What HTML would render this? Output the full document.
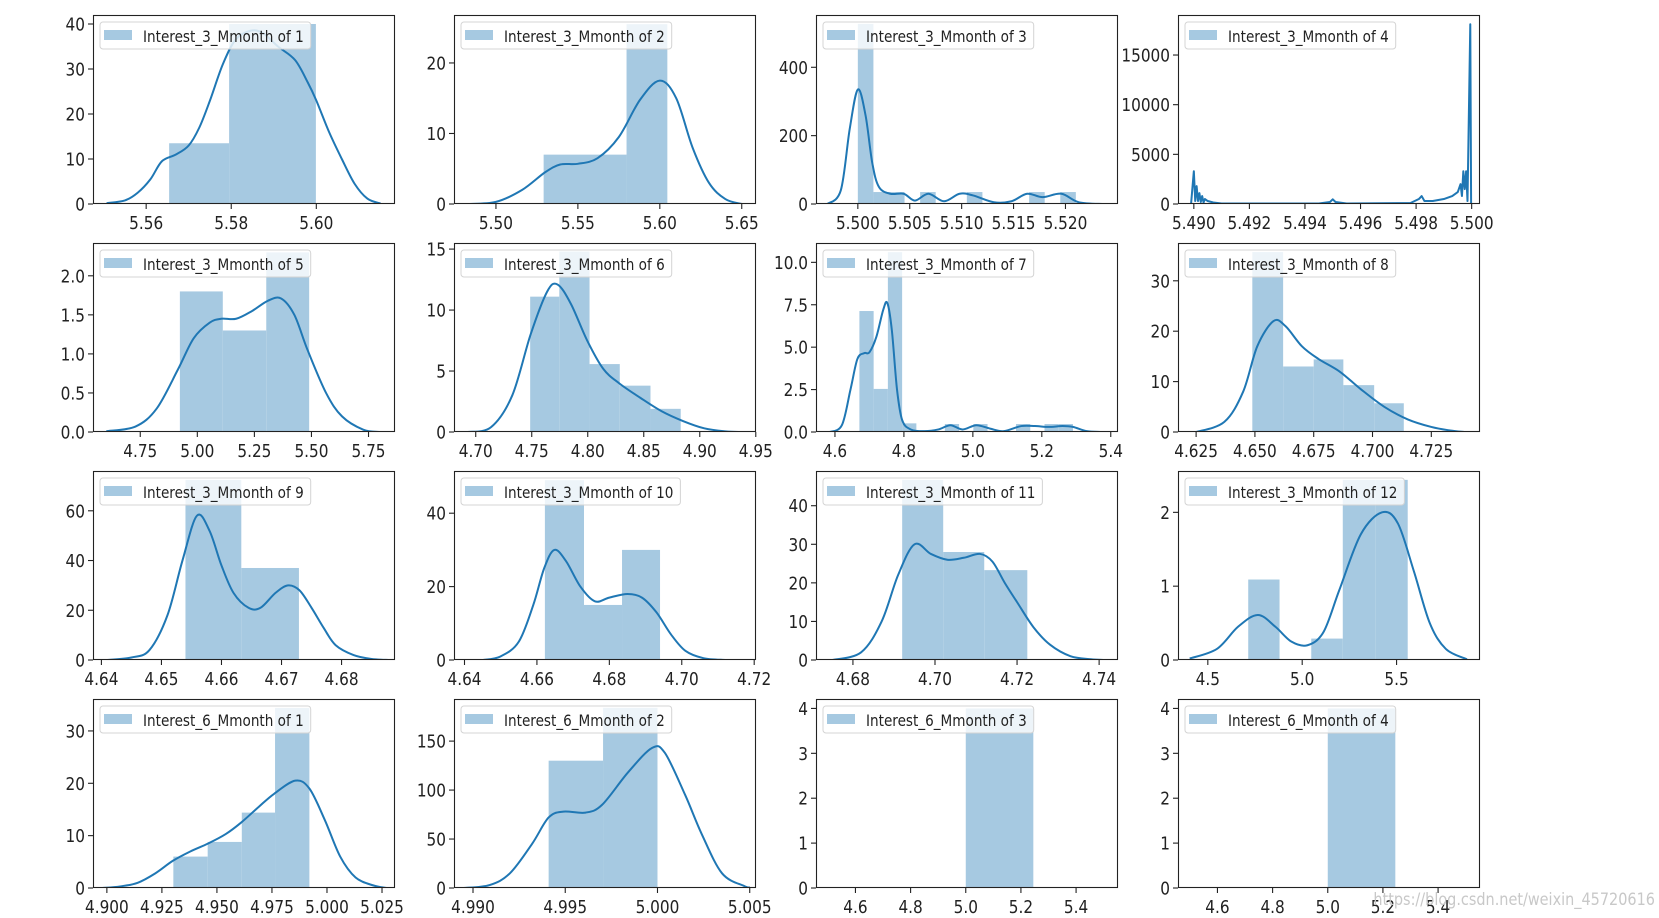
<!DOCTYPE html>
<html><head><meta charset="utf-8">
<style>
html,body{margin:0;padding:0;background:#fff;}
svg{display:block;}
text{font-family:"DejaVu Sans","Liberation Sans",sans-serif;fill:#222;}
</style></head>
<body>
<svg id="chart" width="1659" height="918" viewBox="0 0 1659 918" xmlns="http://www.w3.org/2000/svg">
<rect x="0" y="0" width="1659" height="918" fill="#fff"/>
</svg>
<script>
// ---------- data arrays ----------
const p1Edges=[5.5654,5.5795,5.5999];
const p1Heights=[13.5,40];
const p1KdeX=[5.5507,5.555,5.558,5.561,5.5637,5.567,5.570,5.5725,5.575,5.578,5.581,5.5845,5.5874,5.591,5.595,5.598,5.600,5.603,5.606,5.609,5.612,5.6151];
const p1KdeY=[0.2,0.8,2.5,5.5,9.5,11,13,17,23,31,36.5,38.5,38,35,32,27,23,16,10,4.5,1.2,0.1];
const p1XTicks=["5.56","5.58","5.60"];
const p1YTicks=["0","10","20","30","40"];

const p2Edges=[5.5291,5.5797,5.6046];
const p2Heights=[7.0,25.5];
const p2KdeX=[5.4828,5.500,5.516,5.530,5.5392,5.550,5.562,5.575,5.588,5.600,5.610,5.620,5.630,5.640,5.650];
const p2KdeY=[0,0.3,2,4.5,5.6,5.7,6.5,9.5,14.8,17.5,15,8,3,0.7,0];
const p2XTicks=["5.50","5.55","5.60","5.65"];
const p2YTicks=["0","10","20"];

const p3Edges=[5.5000,5.5015,5.5030,5.5045,5.5060,5.5075,5.5090,5.5105,5.5120,5.5135,5.5150,5.5165,5.5180,5.5195,5.5210];
const p3Heights=[527,35,35,0,35,0,0,35,0,0,0,35,0,35];
const p3KdeX=[5.49706,5.49836,5.49922,5.5000,5.50074,5.50139,5.50203,5.50312,5.50442,5.5055,5.5068,5.50831,5.5098,5.5111,5.5131,5.5148,5.5163,5.5178,5.5196,5.5213,5.5237];
const p3KdeY=[0,40,220,335,260,120,50,30,30,10,30,8,30,25,5,8,30,20,30,5,0];
const p3XTicks=["5.500","5.505","5.510","5.515","5.520"];
const p3YTicks=["0","200","400"];

const p4Edges=[];
const p4Heights=[];
const p4KdeX=[5.4899,5.4900,5.49005,5.4901,5.49015,5.4902,5.49025,5.4903,5.49035,5.4904,5.4905,5.4907,5.4910,5.4945,5.4949,5.4950,5.4951,5.4955,5.4978,5.4981,5.4982,5.4983,5.4986,5.4990,5.4993,5.4995,5.4996,5.49965,5.4997,5.49975,5.4998,5.49985,5.49995,5.49998];
const p4KdeY=[0,3300,300,1800,300,1100,200,800,150,500,300,150,50,50,200,470,200,50,100,500,800,300,300,500,800,1200,2000,800,3300,1500,3300,300,18100,0];
const p4XTicks=["5.490","5.492","5.494","5.496","5.498","5.500"];
const p4YTicks=["0","5000","10000","15000"];

const p5Edges=[4.9236,5.1116,5.302,5.490];
const p5Heights=[1.80,1.30,2.30];
const p5KdeX=[4.6015,4.729,4.822,4.915,4.984,5.054,5.105,5.170,5.240,5.309,5.367,5.425,5.483,5.564,5.634,5.727,5.801];
const p5KdeY=[0.01,0.07,0.3,0.8,1.2,1.4,1.45,1.45,1.55,1.68,1.71,1.5,1.05,0.5,0.2,0.03,0];
const p5XTicks=["4.75","5.00","5.25","5.50","5.75"];
const p5YTicks=["0.0","0.5","1.0","1.5","2.0"];

const p6Edges=[4.7486,4.7746,4.8016,4.8286,4.856,4.883];
const p6Heights=[11.1,14.8,5.57,3.8,1.9];
const p6KdeX=[4.693,4.7137,4.7326,4.749,4.7637,4.773,4.785,4.7995,4.8137,4.828,4.847,4.866,4.885,4.904,4.923,4.937];
const p6KdeY=[0,0.4,3,8,11.5,12.1,10.5,7.5,5.2,4,2.8,1.7,0.9,0.3,0.05,0];
const p6XTicks=["4.70","4.75","4.80","4.85","4.90","4.95"];
const p6YTicks=["0","5","10","15"];

const p7Edges=[4.6709,4.7122,4.7535,4.7948,4.8361,4.8774,4.9187,4.9600,5.0013,5.0426,5.0839,5.1252,5.1665,5.2078,5.2491,5.2904];
const p7Heights=[7.13,2.54,10.6,0.51,0,0,0.47,0,0.47,0,0,0.47,0,0.47,0.47];
const p7KdeX=[4.584,4.62,4.645,4.665,4.685,4.70,4.72,4.74,4.752,4.765,4.78,4.795,4.82,4.86,4.90,4.935,4.97,5.01,5.05,5.09,5.14,5.18,5.22,5.26,5.29,5.33,5.37];
const p7KdeY=[0,0.4,2.5,4.3,4.65,4.7,5.6,7.2,7.6,6,2.5,0.7,0.15,0.05,0.15,0.4,0.15,0.4,0.2,0.05,0.35,0.35,0.3,0.35,0.3,0.05,0];
const p7XTicks=["4.6","4.8","5.0","5.2","5.4"];
const p7YTicks=["0.0","2.5","5.0","7.5","10.0"];

const p8Edges=[4.6489,4.6620,4.6750,4.6876,4.7007,4.7133];
const p8Heights=[35.7,13.0,14.4,9.3,5.7];
const p8KdeX=[4.625,4.637,4.645,4.651,4.6579,4.663,4.670,4.677,4.686,4.695,4.705,4.715,4.725,4.733,4.739];
const p8KdeY=[0,2,8,17,22,21,17,14.5,12,8.5,5,2.5,1,0.3,0];
const p8XTicks=["4.625","4.650","4.675","4.700","4.725"];
const p8YTicks=["0","10","20","30"];

const p9Edges=[4.6540,4.6633,4.6729];
const p9Heights=[72.4,37];
const p9KdeX=[4.641,4.645,4.648,4.651,4.6535,4.6559,4.658,4.660,4.662,4.6645,4.6665,4.669,4.6711,4.673,4.675,4.677,4.679,4.682,4.685,4.688];
const p9KdeY=[0,1,4,18,40,58,52,38,27,21,21,27,30,28,21,13,6,2,0.4,0];
const p9XTicks=["4.64","4.65","4.66","4.67","4.68"];
const p9YTicks=["0","20","40","60"];

const p10Edges=[4.6622,4.6730,4.6835,4.694];
const p10Heights=[49,15,30];
const p10KdeX=[4.645,4.650,4.655,4.659,4.662,4.6648,4.668,4.672,4.676,4.680,4.685,4.689,4.693,4.697,4.701,4.706,4.712];
const p10KdeY=[0,1,5,15,25,30,27,20,16,17,18,17,13,7,2.5,0.5,0];
const p10XTicks=["4.64","4.66","4.68","4.70","4.72"];
const p10YTicks=["0","20","40"];

const p11Edges=[4.692,4.702,4.712,4.7225];
const p11Heights=[46.7,28,23.3];
const p11KdeX=[4.675,4.682,4.687,4.691,4.695,4.699,4.703,4.707,4.711,4.714,4.717,4.720,4.724,4.728,4.733,4.738,4.741];
const p11KdeY=[0,2,10,22,30,27.5,26,26.5,27.5,25.5,20,15,8.5,4,1,0.2,0];
const p11XTicks=["4.68","4.70","4.72","4.74"];
const p11YTicks=["0","10","20","30","40"];

const p12Edges=[4.714,4.880,5.048,5.215,5.387,5.559];
const p12Heights=[1.09,0,0.29,2.44,2.44];
const p12KdeX=[4.404,4.548,4.66,4.765,4.858,4.942,5.028,5.113,5.197,5.31,5.423,5.507,5.592,5.676,5.761,5.873];
const p12KdeY=[0.02,0.15,0.45,0.61,0.45,0.25,0.2,0.38,0.95,1.7,2.0,1.85,1.2,0.5,0.15,0.01];
const p12XTicks=["4.5","5.0","5.5"];
const p12YTicks=["0","1","2"];

const p13Edges=[4.9302,4.9458,4.9613,4.9764,4.992];
const p13Heights=[6,8.8,14.4,34.4];
const p13KdeX=[4.898,4.906,4.914,4.922,4.930,4.938,4.946,4.954,4.961,4.969,4.976,4.9856,4.992,4.999,5.006,5.013,5.021,5.027];
const p13KdeY=[0,0.3,1.0,2.8,5.2,7,8.5,10.3,12.5,15.5,18,20.5,19,13,6,2,0.5,0];
const p13XTicks=["4.900","4.925","4.950","4.975","5.000","5.025"];
const p13YTicks=["0","10","20","30"];

const p14Edges=[4.9941,4.99705,5.000];
const p14Heights=[130,184];
const p14KdeX=[4.9895,4.9909,4.9920,4.9932,4.9941,4.9949,4.9961,4.9970,4.9984,4.9997,5.0004,5.0015,5.0024,5.0035,5.0047,5.0050];
const p14KdeY=[0,3,15,45,72,78,77,85,118,143,138,95,55,15,2,0.5];
const p14XTicks=["4.990","4.995","5.000","5.005"];
const p14YTicks=["0","50","100","150"];

const p15Edges=[5.0,5.245];
const p15Heights=[4.0];
const p15KdeX=[];
const p15KdeY=[];
const p15XTicks=["4.6","4.8","5.0","5.2","5.4"];
const p15YTicks=["0","1","2","3","4"];

const p16Edges=[5.0,5.245];
const p16Heights=[4.0];
const p16KdeX=[];
const p16KdeY=[];
const p16XTicks=["4.6","4.8","5.0","5.2","5.4"];
const p16YTicks=["0","1","2","3","4"];

const legendLabels=["Interest_3_Mmonth of 1","Interest_3_Mmonth of 2","Interest_3_Mmonth of 3","Interest_3_Mmonth of 4","Interest_3_Mmonth of 5","Interest_3_Mmonth of 6","Interest_3_Mmonth of 7","Interest_3_Mmonth of 8","Interest_3_Mmonth of 9","Interest_3_Mmonth of 10","Interest_3_Mmonth of 11","Interest_3_Mmonth of 12","Interest_6_Mmonth of 1","Interest_6_Mmonth of 2","Interest_6_Mmonth of 3","Interest_6_Mmonth of 4"];

// axis ranges
const plots=[
 {xlim:[5.5475,5.6185],ylim:[0,42],edges:p1Edges,heights:p1Heights,kx:p1KdeX,ky:p1KdeY,xt:p1XTicks,yt:p1YTicks,smooth:true},
 {xlim:[5.4744,5.6587],ylim:[0,26.8],edges:p2Edges,heights:p2Heights,kx:p2KdeX,ky:p2KdeY,xt:p2XTicks,yt:p2YTicks,smooth:true},
 {xlim:[5.49597,5.52506],ylim:[0,553],edges:p3Edges,heights:p3Heights,kx:p3KdeX,ky:p3KdeY,xt:p3XTicks,yt:p3YTicks,smooth:true},
 {xlim:[5.48943,5.5003],ylim:[0,19030],edges:p4Edges,heights:p4Heights,kx:p4KdeX,ky:p4KdeY,xt:p4XTicks,yt:p4YTicks,smooth:false},
 {xlim:[4.543,5.866],ylim:[0,2.42],edges:p5Edges,heights:p5Heights,kx:p5KdeX,ky:p5KdeY,xt:p5XTicks,yt:p5YTicks,smooth:true},
 {xlim:[4.6806,4.9502],ylim:[0,15.5],edges:p6Edges,heights:p6Heights,kx:p6KdeX,ky:p6KdeY,xt:p6XTicks,yt:p6YTicks,smooth:true},
 {xlim:[4.545,5.421],ylim:[0,11.14],edges:p7Edges,heights:p7Heights,kx:p7KdeX,ky:p7KdeY,xt:p7XTicks,yt:p7YTicks,smooth:true},
 {xlim:[4.6173,4.7457],ylim:[0,37.5],edges:p8Edges,heights:p8Heights,kx:p8KdeX,ky:p8KdeY,xt:p8XTicks,yt:p8YTicks,smooth:true},
 {xlim:[4.6386,4.6889],ylim:[0,76],edges:p9Edges,heights:p9Heights,kx:p9KdeX,ky:p9KdeY,xt:p9XTicks,yt:p9YTicks,smooth:true},
 {xlim:[4.6371,4.7205],ylim:[0,51.5],edges:p10Edges,heights:p10Heights,kx:p10KdeX,ky:p10KdeY,xt:p10XTicks,yt:p10YTicks,smooth:true},
 {xlim:[4.671,4.7446],ylim:[0,49],edges:p11Edges,heights:p11Heights,kx:p11KdeX,ky:p11KdeY,xt:p11XTicks,yt:p11YTicks,smooth:true},
 {xlim:[4.342,5.942],ylim:[0,2.56],edges:p12Edges,heights:p12Heights,kx:p12KdeX,ky:p12KdeY,xt:p12XTicks,yt:p12YTicks,smooth:true},
 {xlim:[4.8937,5.0309],ylim:[0,36.1],edges:p13Edges,heights:p13Heights,kx:p13KdeX,ky:p13KdeY,xt:p13XTicks,yt:p13YTicks,smooth:true},
 {xlim:[4.98897,5.00534],ylim:[0,193],edges:p14Edges,heights:p14Heights,kx:p14KdeX,ky:p14KdeY,xt:p14XTicks,yt:p14YTicks,smooth:true},
 {xlim:[4.457,5.552],ylim:[0,4.21],edges:p15Edges,heights:p15Heights,kx:p15KdeX,ky:p15KdeY,xt:p15XTicks,yt:p15YTicks,smooth:true},
 {xlim:[4.457,5.552],ylim:[0,4.21],edges:p16Edges,heights:p16Heights,kx:p16KdeX,ky:p16KdeY,xt:p16XTicks,yt:p16YTicks,smooth:true}
];

// ---------- layout ----------
const colLeft=[93,454,816,1178];
const rowTop=[15,243,471,699];
const AW=302, AH=189;
const BAR_FILL="rgb(166,201,225)";
const LINE="#1f77b4";
const SX=0.85;
const NS="http://www.w3.org/2000/svg";
const svg=document.getElementById('chart');

function mk(tag,attrs,parent){
  const e=document.createElementNS(NS,tag);
  for(const k in attrs) e.setAttribute(k,attrs[k]);
  parent.appendChild(e);
  return e;
}
function txt(parent,x,y,str,size,anchor){
  const t=mk('text',{transform:`translate(${x},${y}) scale(${SX},1)`,'font-size':size,'text-anchor':anchor},parent);
  t.textContent=str;
  return t;
}
function smoothPath(pts){
  if(pts.length<2) return '';
  let d=`M${pts[0][0].toFixed(2)},${pts[0][1].toFixed(2)}`;
  for(let i=0;i<pts.length-1;i++){
    const p0=pts[i-1]||pts[i], p1=pts[i], p2=pts[i+1], p3=pts[i+2]||pts[i+1];
    const c1=[p1[0]+(p2[0]-p0[0])/6, p1[1]+(p2[1]-p0[1])/6];
    const c2=[p2[0]-(p3[0]-p1[0])/6, p2[1]-(p3[1]-p1[1])/6];
    d+=` C${c1[0].toFixed(2)},${c1[1].toFixed(2)} ${c2[0].toFixed(2)},${c2[1].toFixed(2)} ${p2[0].toFixed(2)},${p2[1].toFixed(2)}`;
  }
  return d;
}

plots.forEach((p,i)=>{
  const L=colLeft[i%4], T=rowTop[Math.floor(i/4)], R=L+AW, B=T+AH;
  const sx=v=>L+(v-p.xlim[0])/(p.xlim[1]-p.xlim[0])*AW;
  const sy=v=>B-(v-p.ylim[0])/(p.ylim[1]-p.ylim[0])*AH;

  const g=mk('g',{},svg);
  
  

  const bg=mk('rect',{x:L,y:T,width:AW,height:AH,fill:'#fff'},g);
  
  

  const clip=mk('clipPath',{id:'clip'+i},g);
  mk('rect',{x:L,y:T,width:AW,height:AH},clip);
  const inner=mk('g',{'clip-path':`url(#clip${i})`},g);

  p.heights.forEach((h,j)=>{
    if(h<=0) return;
    const x0=sx(p.edges[j]), x1=sx(p.edges[j+1]);
    const r=mk('rect',{x:x0.toFixed(2),y:sy(h).toFixed(2),width:(x1-x0).toFixed(2),height:(B-sy(h)).toFixed(2),fill:BAR_FILL},inner);
    
    
  });

  if(p.kx.length){
    const pts=p.kx.map((x,k)=>[sx(x),sy(p.ky[k])]);
    let d;
    if(p.smooth) d=smoothPath(pts);
    else d='M'+pts.map(q=>q[0].toFixed(2)+','+q[1].toFixed(2)).join(' L');
    const path=mk('path',{d:d,fill:'none',stroke:LINE,'stroke-width':2,'stroke-linejoin':'round'},inner);
    
    
  }

  const sp=mk('rect',{x:L+0.5,y:T+0.5,width:AW-1,height:AH-1,fill:'none',stroke:'#222','stroke-width':1.1},g);
  
  

  const xg=mk('g',{},g);
  
  
  p.xt.forEach(lbl=>{
    const x=sx(parseFloat(lbl));
    mk('line',{x1:x,x2:x,y1:B,y2:B+5,stroke:'#222','stroke-width':1.1},xg);
    const t=txt(xg,x,B+25,lbl,18,'middle');
    
    
  });
  const yg=mk('g',{},g);
  
  
  p.yt.forEach(lbl=>{
    const y=sy(parseFloat(lbl));
    mk('line',{x1:L-5,x2:L,y1:y,y2:y,stroke:'#222','stroke-width':1.1},yg);
    const t=txt(yg,L-8,y+6.5,lbl,18,'end');
    
    
  });

  const xl=txt(g,L+AW/2,B+55,'Interest_3_Mmonth',18,'middle');
  
  

  const lg=mk('g',{},g);
  
  
  const box=mk('rect',{x:L+7,y:T+7,width:100,height:27,rx:3,fill:'#fff','fill-opacity':0.8,stroke:'#d4d4d4','stroke-width':1},lg);
  const patch=mk('rect',{x:L+11,y:T+15,width:28,height:10,fill:BAR_FILL},lg);
  
  
  const lt=txt(lg,L+50,T+27,legendLabels[i],16,'start');
  
  
  let w=legendLabels[i].length*7.3;
  try{ w=lt.getComputedTextLength()*SX; }catch(e){}
  box.setAttribute('width',(w+50).toFixed(1));
});

const wm=txt(svg,1655,905,'https://blog.csdn.net/weixin_45720616',17,'end');
wm.setAttribute('style','fill:#c8c8c8');


</script>
</body></html>
